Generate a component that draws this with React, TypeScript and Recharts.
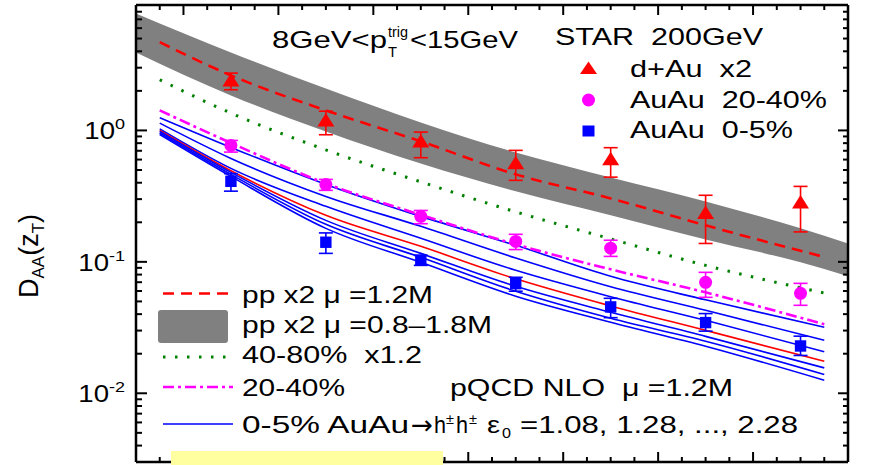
import React from 'react';
import { ComposedChart, XAxis, YAxis, Line, Area, Scatter, ErrorBar } from 'recharts';

const W = 886;
const H = 465;
const FONT = '"Liberation Sans", Arial, Helvetica, sans-serif';

// z_T nodes of the pQCD NLO curves
const zCurve = [0.075, 0.15, 0.25, 0.35, 0.45, 0.55, 0.65, 0.775];
// pp x2, mu = 1.2M
const ppMu12 = [4.69, 2.62, 1.42, 0.825, 0.463, 0.304, 0.1895, 0.1088];
// 40-80% x1.2
const nlo4080 = [2.43, 1.354, 0.711, 0.406, 0.24, 0.1496, 0.094, 0.0579];
// 20-40%
const nlo2040 = [1.42, 0.803, 0.395, 0.2277, 0.1359, 0.0877, 0.0586, 0.0335];
// 0-5% AuAu -> h+-h+-, one curve per epsilon_0
const eps108 = [1.249, 0.7425, 0.3885, 0.2218, 0.1335, 0.0776, 0.0514, 0.0318];
const eps128 = [1.137, 0.6124, 0.3148, 0.1862, 0.1069, 0.0646, 0.0428, 0.0253];
const eps148 = [1.027, 0.514, 0.2643, 0.151, 0.0862, 0.0543, 0.0359, 0.0207];
const eps168 = [1.0, 0.4938, 0.2258, 0.1312, 0.0743, 0.0462, 0.0301, 0.0175];
const eps188 = [0.9826, 0.4794, 0.2068, 0.116, 0.0651, 0.0413, 0.0271, 0.0156];
const eps208 = [0.957, 0.4628, 0.1929, 0.1082, 0.0597, 0.0372, 0.0249, 0.0139];
const eps228 = [0.932, 0.4468, 0.1798, 0.0991, 0.0547, 0.0347, 0.0228, 0.01256];
const epsCurves = [eps108, eps128, eps148, eps168, eps188, eps208, eps228];
const epsColors = ['#0000ff', '#0000ff', '#0000ff', '#ff0000', '#0000ff', '#0000ff', '#0000ff'];

// pp x2 scale band, mu = 0.8-1.8M
const bandZ = [0.05, 0.15, 0.25, 0.35, 0.45, 0.55, 0.65, 0.75, 0.8];
const bandLow = [3.92, 1.846, 0.983, 0.561, 0.344, 0.226, 0.148, 0.0991, 0.0776];
const bandHigh = [7.76, 3.92, 2.086, 1.15, 0.68, 0.439, 0.2884, 0.1798, 0.1382];

// STAR data points
const zData = [0.15, 0.25, 0.35, 0.45, 0.55, 0.65, 0.75];
const dAu = [2.38, 1.18, 0.815, 0.558, 0.599, 0.233, 0.28];
const dAuHi = [2.73, 1.4, 0.971, 0.705, 0.739, 0.321, 0.375];
const dAuLo = [2.04, 0.927, 0.62, 0.417, 0.441, 0.138, 0.169];
const auau2040 = [0.769, 0.387, 0.222, 0.143, 0.127, 0.0698, 0.0576];
const auau2040Hi = [0.839, 0.424, 0.246, 0.162, 0.146, 0.0832, 0.0686];
const auau2040Lo = [0.684, 0.35, 0.195, 0.124, 0.11, 0.0537, 0.0467];
const auau05 = [0.41, 0.141, 0.103, 0.0682, 0.0454, 0.0345, 0.0229];
const auau05Hi = [0.469, 0.166, 0.112, 0.0763, 0.0528, 0.0404, 0.0272];
const auau05Lo = [0.345, 0.116, 0.094, 0.0598, 0.0376, 0.0297, 0.0194];

// axes
const yDomain = [0.003, 9];
const yMajor = [0.01, 0.1, 1];
const yMajorExp = ['-2', '-1', '0'];
const yTicks = [0.001, 0.01, 0.1, 1]
  .flatMap((d) => [1, 2, 3, 4, 5, 6, 7, 8, 9].map((m) => +(d * m).toPrecision(3)))
  .filter((v) => v > yDomain[0] * 1.001 && v < yDomain[1] * 0.999);
const xDomain = [0.05, 0.8];
const xStep = 0.025;
const xTicks = Array.from({ length: 29 }, (_, k) => +(xDomain[0] + (k + 1) * xStep).toFixed(4));

const curveRows = zCurve.map((z, i) => {
  const row: Record<string, number> = { z, pp: ppMu12[i], c4080: nlo4080[i], c2040: nlo2040[i] };
  epsCurves.forEach((c, j) => {
    row['e' + j] = c[i];
  });
  return row;
});
const bandRows = bandZ.map((z, i) => ({ z, band: [bandLow[i], bandHigh[i]] }));
const pointRows = (v: number[], hi: number[], lo: number[]) =>
  zData.map((z, i) => ({ z, v: v[i], err: [v[i] - lo[i], hi[i] - v[i]] }));
const dAuRows = pointRows(dAu, dAuHi, dAuLo);
const auau2040Rows = pointRows(auau2040, auau2040Hi, auau2040Lo);
const auau05Rows = pointRows(auau05, auau05Hi, auau05Lo);

const isMajorY = (v: number) => yMajor.findIndex((m) => Math.abs(v / m - 1) < 1e-6);
const isMajorX = (v: number) => Math.round((v - xDomain[0]) / xStep) % 4 === 2;

const LeftTick = (p: any) => {
  const { x, y, payload } = p;
  const mi = isMajorY(payload.value);
  return (
    <g>
      <line x1={x} x2={x + (mi >= 0 ? 11 : 6)} y1={y} y2={y} stroke="#000" strokeWidth={2} />
      {mi >= 0 && (
        <g transform={`translate(${x - 11},${y + 9}) scale(1.2,1)`}>
          <text x={0} y={0} textAnchor="end" fontFamily={FONT} fontSize={23} fill="#000">
            10
            <tspan dy={-10} fontSize={15}>
              {yMajorExp[mi]}
            </tspan>
          </text>
        </g>
      )}
    </g>
  );
};
const RightTick = (p: any) => {
  const { x, y, payload } = p;
  const len = isMajorY(payload.value) >= 0 ? 10 : 5;
  return <line x1={x} x2={x - len} y1={y} y2={y} stroke="#000" strokeWidth={2} />;
};
const TopTick = (p: any) => {
  const { x, y, payload } = p;
  const len = isMajorX(payload.value) ? 10 : 5;
  return <line x1={x} x2={x} y1={y} y2={y + len} stroke="#000" strokeWidth={2} />;
};
const BottomTick = (p: any) => {
  const { x, y, payload } = p;
  const len = isMajorX(payload.value) ? 10 : 5;
  return <line x1={x} x2={x} y1={y} y2={y - len} stroke="#000" strokeWidth={2} />;
};

const Triangle = (p: any) => (
  <path d={`M${p.cx},${p.cy - 8}L${p.cx + 8.5},${p.cy + 5.5}L${p.cx - 8.5},${p.cy + 5.5}Z`} fill="#ff0000" />
);
const Dot = (p: any) => <circle cx={p.cx} cy={p.cy} r={6.5} fill="#ff00ff" />;
const Square = (p: any) => <rect x={p.cx - 5.7} y={p.cy - 5.7} width={11.4} height={11.4} fill="#0000ff" />;

const T = ({ x, y, w, size = 24, family = FONT, children }: any) => (
  <text
    x={x}
    y={y}
    fontFamily={family}
    fontSize={size}
    fill="#000"
    textLength={w}
    lengthAdjust="spacingAndGlyphs"
    style={{ whiteSpace: 'pre' }}
  >
    {children}
  </text>
);

export default function App() {
  return (
    <div style={{ position: 'absolute', left: 0, top: 0, width: W, height: H, background: '#fff', overflow: 'hidden' }}>
      <ComposedChart width={W} height={H} data={curveRows} margin={{ top: 0, right: 0, bottom: 0, left: 0 }}>
        <XAxis
          dataKey="z"
          type="number"
          domain={xDomain}
          allowDataOverflow
          ticks={xTicks}
          interval={0}
          height={3}
          tickSize={0}
          tickMargin={0}
          tickLine={false}
          axisLine={{ stroke: '#000', strokeWidth: 2.5 }}
          tick={BottomTick}
        />
        <XAxis
          xAxisId="top"
          orientation="top"
          dataKey="z"
          type="number"
          domain={xDomain}
          allowDataOverflow
          ticks={xTicks}
          interval={0}
          height={5}
          tickSize={0}
          tickMargin={0}
          tickLine={false}
          axisLine={{ stroke: '#000', strokeWidth: 2.5 }}
          tick={TopTick}
        />
        <YAxis
          dataKey="v"
          type="number"
          scale="log"
          domain={yDomain}
          allowDataOverflow
          ticks={yTicks}
          interval={0}
          width={136}
          tickSize={0}
          tickMargin={0}
          tickLine={false}
          axisLine={{ stroke: '#000', strokeWidth: 2.5 }}
          tick={LeftTick}
        />
        <YAxis
          yAxisId="right"
          orientation="right"
          type="number"
          scale="log"
          domain={yDomain}
          allowDataOverflow
          ticks={yTicks}
          interval={0}
          width={38}
          tickSize={0}
          tickMargin={0}
          tickLine={false}
          axisLine={{ stroke: '#000', strokeWidth: 2.5 }}
          tick={RightTick}
        />
        <Area
          data={bandRows}
          dataKey="band"
          type="monotone"
          stroke="none"
          fill="#808080"
          fillOpacity={1}
          isAnimationActive={false}
          activeDot={false}
        />
        {epsCurves.map((_, j) => (
          <Line
            key={'e' + j}
            dataKey={'e' + j}
            type="monotone"
            stroke={epsColors[j]}
            strokeWidth={1.6}
            dot={false}
            activeDot={false}
            isAnimationActive={false}
          />
        ))}
        <Line dataKey="c4080" type="monotone" stroke="#008000" strokeWidth={3} strokeDasharray="2.5 9.5" strokeLinecap="butt" dot={false} activeDot={false} isAnimationActive={false} />
        <Line dataKey="c2040" type="monotone" stroke="#ff00ff" strokeWidth={2.6} strokeDasharray="11 4 3 4" dot={false} activeDot={false} isAnimationActive={false} />
        <Line dataKey="pp" type="monotone" stroke="#ff0000" strokeWidth={2.6} strokeDasharray="11 7" dot={false} activeDot={false} isAnimationActive={false} />
        <Scatter data={dAuRows} dataKey="v" shape={Triangle} isAnimationActive={false}>
          <ErrorBar dataKey="err" direction="y" width={7} stroke="#ff0000" strokeWidth={1.6} />
        </Scatter>
        <Scatter data={auau2040Rows} dataKey="v" shape={Dot} isAnimationActive={false}>
          <ErrorBar dataKey="err" direction="y" width={7} stroke="#ff00ff" strokeWidth={1.6} />
        </Scatter>
        <Scatter data={auau05Rows} dataKey="v" shape={Square} isAnimationActive={false}>
          <ErrorBar dataKey="err" direction="y" width={7} stroke="#0000ff" strokeWidth={1.6} />
        </Scatter>
      </ComposedChart>

      <svg width={W} height={H} style={{ position: 'absolute', left: 0, top: 0, pointerEvents: 'none' }}>
        {/* y-axis title */}
        <g transform="translate(38,256) rotate(-90)">
          <text x={0} y={0} textAnchor="middle" fontFamily={FONT} fontSize={27} fill="#000">
            D<tspan fontSize={17} dy={6}>AA</tspan>
            <tspan dy={-6}>(z</tspan>
            <tspan fontSize={17} dy={6}>T</tspan>
            <tspan dy={-6}>)</tspan>
          </text>
        </g>

        {/* header */}
        <T x={272} y={48} w={115}>8GeV&lt;p</T>
        <T x={388} y={37} w={20} size={14}>trig</T>
        <T x={388} y={57} w={9} size={14}>T</T>
        <T x={410} y={48} w={108}>&lt;15GeV</T>
        <T x={555} y={45} w={208}>STAR  200GeV</T>

        {/* data legend */}
        <path d="M588.5,61.5L597,74L580,74Z" fill="#ff0000" />
        <T x={630} y={77} w={122}>d+Au  x2</T>
        <circle cx={588.5} cy={100} r={6.5} fill="#ff00ff" />
        <T x={630} y={108} w={197}>AuAu  20-40%</T>
        <rect x={582.5} y={125.5} width={12} height={11} fill="#0000ff" />
        <T x={630} y={138} w={163}>AuAu  0-5%</T>

        {/* theory legend */}
        <line x1={163} x2={233} y1={293.5} y2={293.5} stroke="#ff0000" strokeWidth={2.6} strokeDasharray="11 7" />
        <T x={242} y={303} w={191}>pp x2 μ =1.2M</T>
        <rect x={158} y={310} width={70} height={33} rx={3} fill="#808080" />
        <T x={242} y={333} w={250}>pp x2 μ =0.8–1.8M</T>
        <line x1={163} x2={230} y1={357} y2={357} stroke="#008000" strokeWidth={3} strokeDasharray="2.5 9.5" />
        <T x={242} y={363} w={180}>40-80%  x1.2</T>
        <line x1={163} x2={233} y1={387} y2={387} stroke="#ff00ff" strokeWidth={2.6} strokeDasharray="11 4 3 4" />
        <T x={242} y={396} w={103}>20-40%</T>
        <T x={450} y={396} w={283}>pQCD NLO  μ =1.2M</T>
        <line x1={163} x2={233} y1={424} y2={424} stroke="#0000ff" strokeWidth={1.6} />
        <T x={242} y={433} w={167}>0-5% AuAu</T>
        <T x={411} y={434} w={22} size={26} family='"DejaVu Sans", sans-serif'>→</T>
        <T x={434} y={433} w={12}>h</T>
        <T x={446} y={424} w={8} size={14}>±</T>
        <T x={456} y={433} w={12}>h</T>
        <T x={469} y={424} w={8} size={14}>±</T>
        <T x={487} y={433} w={13}>ε</T>
        <T x={502} y={438} w={9} size={14}>0</T>
        <T x={520} y={433} w={278}>=1.08, 1.28, ..., 2.28</T>

        <rect x={171} y={451} width={272} height={14} fill="#ffffa0" />
      </svg>
    </div>
  );
}
